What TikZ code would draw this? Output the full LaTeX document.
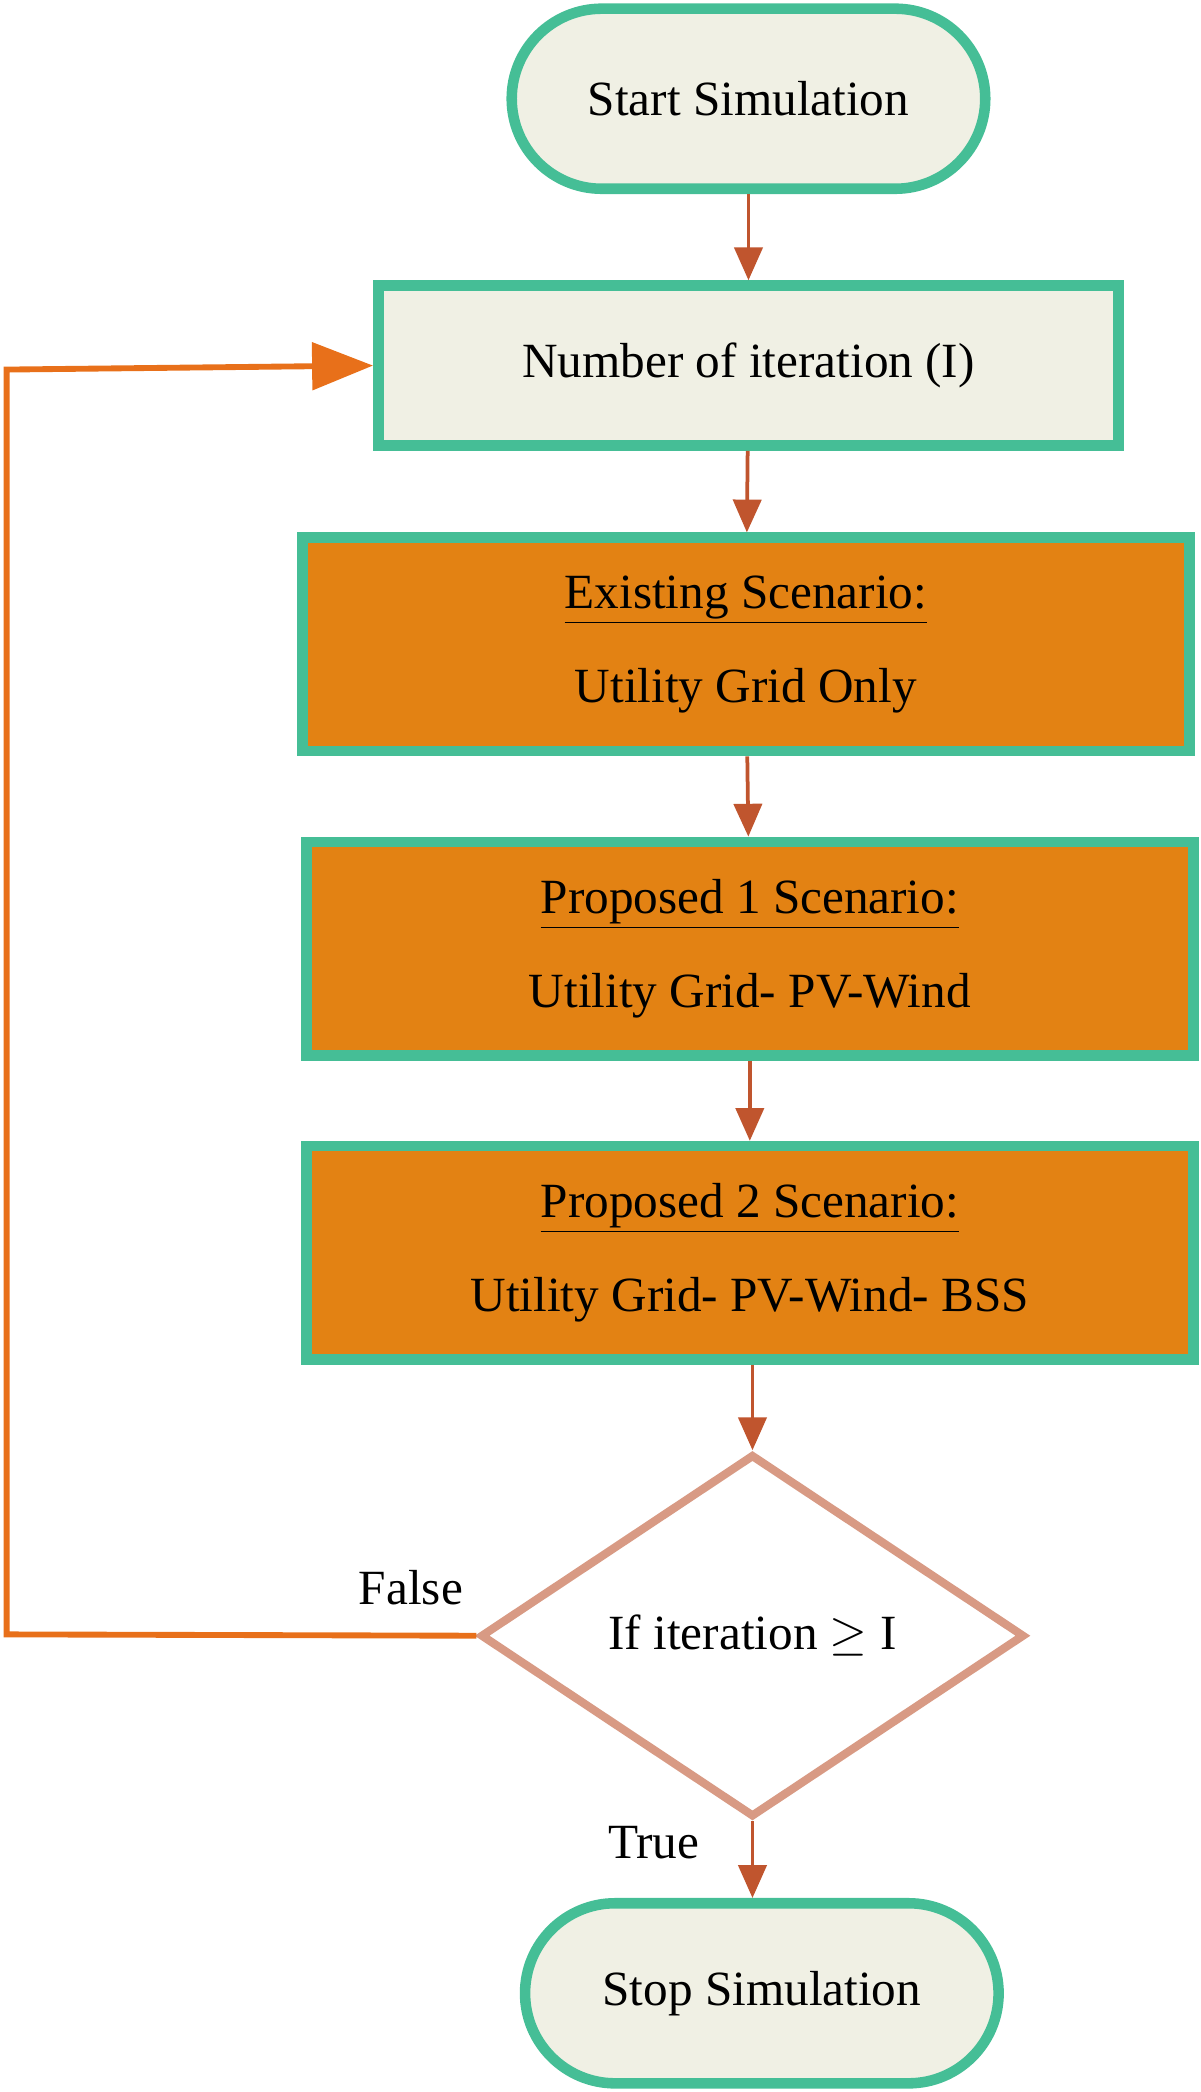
\documentclass[tikz,border=0pt]{standalone}
\usepackage{fontspec}
\setmainfont{Liberation Serif}
\usetikzlibrary{shapes.geometric, arrows.meta, positioning}
\definecolor{teal}{HTML}{45BE96}
\definecolor{cream}{HTML}{F0F0E4}
\definecolor{orng}{HTML}{E38213}
\definecolor{arr}{HTML}{C0552E}
\definecolor{loop}{HTML}{E8701A}
\definecolor{dia}{HTML}{D89A84}
\tikzset{
  term/.style={draw=teal, line width=4.5pt, fill=cream, rounded corners=1.35cm,
    minimum width=7.1cm, minimum height=2.7cm, font=\fontsize{21}{25}\selectfont},
  iterbox/.style={draw=teal, line width=4.5pt, fill=cream,
    minimum width=11.1cm, minimum height=2.4cm, font=\fontsize{21}{25}\selectfont},
  scen/.style={draw=teal, line width=4.5pt, fill=orng, align=center,
    minimum width=13.3cm, minimum height=3.2cm, font=\fontsize{21}{40}\selectfont},
  flow/.style={draw=arr, line width=1.6pt, -{Triangle[length=14pt,width=12pt]}},
}
\begin{document}
\begin{tikzpicture}[x=0.02cm, y=-0.02cm]
\useasboundingbox (0,0) rectangle (900,1568);
\node[term] (start) at (561,74) {Start Simulation};
\node[iterbox] (iter) at (561,274) {Number of iteration (I)};
\node[scen] (exist) at (559,483) {\underline{Existing Scenario:}\\Utility Grid Only};
\node[scen] (prop1) at (562,711) {\underline{Proposed 1 Scenario:}\\Utility Grid- PV-Wind};
\node[scen] (prop2) at (562,939) {\underline{Proposed 2 Scenario:}\\Utility Grid- PV-Wind- BSS};
\node[diamond, draw=dia, line width=3.5pt, fill=white, inner sep=0pt,
  minimum width=8.16cm, minimum height=5.44cm, font=\fontsize{21}{25}\selectfont]
  (check) at (564,1226) {If iteration $\geq$ I};
\node[term] (stop) at (571,1494) {Stop Simulation};
\coordinate (c1) at (5,1225);
\coordinate (c2) at (5,277);
\node[font=\fontsize{21}{25}\selectfont] (false) at (308,1190) {False};
\node[font=\fontsize{21}{25}\selectfont] (true) at (490,1381) {True};

\draw[flow] (start) -- (iter);
\draw[flow] (iter) -- (exist);
\draw[flow] (exist) -- (prop1);
\draw[flow] (prop1) -- (prop2);
\draw[flow] (prop2.south -| check.north) -- (check.north);
\draw[flow] (check.south) -- (check.south |- stop.north);
\draw[draw=loop, line width=2.5pt, -{Triangle[length=26pt,width=20pt]}]
  (check.west) -- (c1) -- (c2) -- (iter.west);
\end{tikzpicture}
\end{document}
